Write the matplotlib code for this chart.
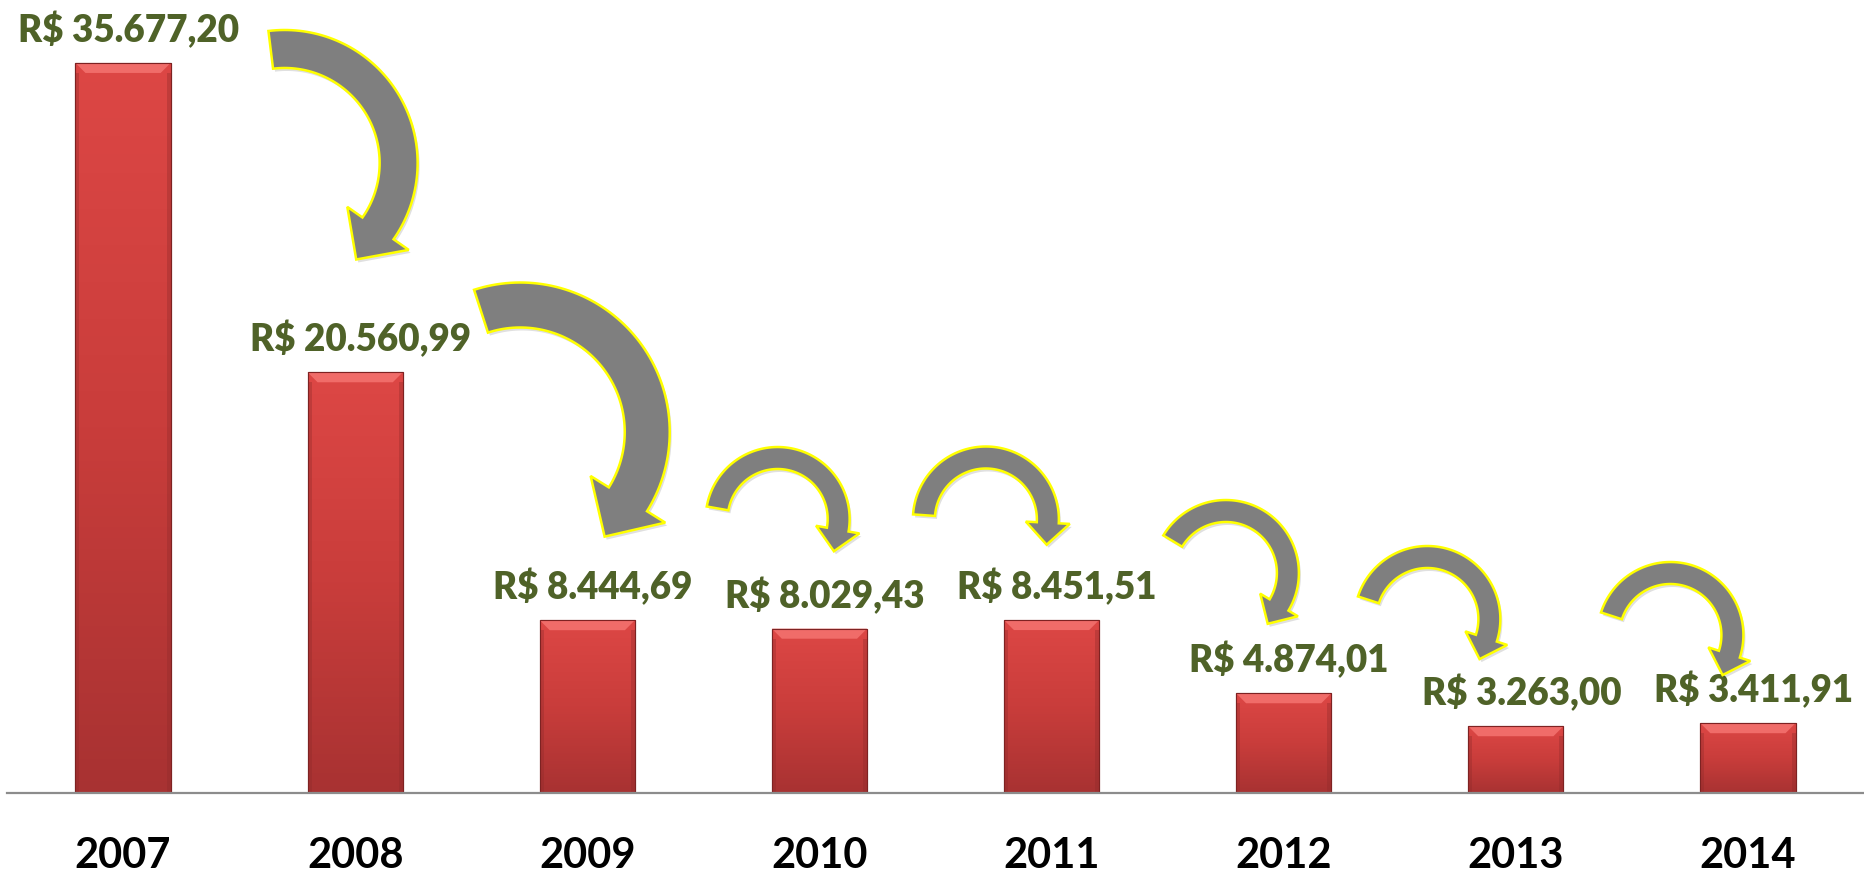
import numpy as np
import matplotlib
matplotlib.use("Agg")
import matplotlib.pyplot as plt
from matplotlib.colors import LinearSegmentedColormap
from matplotlib.patches import Polygon
from matplotlib.transforms import Affine2D, ScaledTranslation

# --- dados ---
anos = ["2007", "2008", "2009", "2010", "2011", "2012", "2013", "2014"]
valores = [35677.20, 20560.99, 8444.69, 8029.43, 8451.51, 4874.01, 3263.00, 3411.91]
rotulos = ["R$ 35.677,20", "R$ 20.560,99", "R$ 8.444,69", "R$ 8.029,43",
           "R$ 8.451,51", "R$ 4.874,01", "R$ 3.263,00", "R$ 3.411,91"]

# setas curvas entre os anos (centro do arco em coordenadas de dados)
seta_cx = [0.696, 1.711, 2.820, 3.717, 4.751, 5.619, 6.666]
seta_cy = [30789, 17642, 13390, 13366, 10751, 8503, 7721]
# raio, largura, angulo inicial, angulo final, largura da ponta, comprimento da ponta (px)
seta_geo = [(114, 38, 97, -35, 75, 38),
            (127, 45, 108, -32, 88, 44),
            (61, 22, 170, -10, 44, 22),
            (62, 22, 176, -3, 44, 22),
            (62, 22, 149, -31, 44, 22),
            (62, 22, 162, -18, 44, 22),
            (62, 22, 162, -18, 44, 22)]

plt.rcParams['font.family'] = ['Lato', 'DejaVu Sans']

fig = plt.figure(figsize=(18.64, 8.74), dpi=100)
ax = fig.add_axes([7 / 1864, 81 / 874, 1 - 7 / 1864, 793 / 874])

x = np.arange(len(anos))
largura = 0.41
barras = ax.bar(x, valores, width=largura, color="#D64240", edgecolor="#7E2222",
                linewidth=0.8, zorder=2)

# gradiente vertical + brilho no topo de cada barra
cmap = LinearSegmentedColormap.from_list("verm", ["#A83232", "#C93D3B", "#DD4745"])
grad = np.linspace(0, 1, 256).reshape(-1, 1)
ymax = 38754
px_x = 1 / 232.6
px_y = ymax / 793
for b in barras:
    x0, w, h = b.get_x(), b.get_width(), b.get_height()
    im = ax.imshow(grad, extent=[x0, x0 + w, 0, h], origin="lower", aspect="auto",
                   cmap=cmap, zorder=2.1)
    im.set_clip_path(b)
    dx, dy = 10 * px_x, 10 * px_y
    topo = Polygon([(x0, h), (x0 + w, h), (x0 + w - dx, h - dy), (x0 + dx, h - dy)],
                   closed=True, facecolor="#F06C69", edgecolor="none", zorder=2.2)
    ax.add_patch(topo)
    # laterais um pouco mais escuras
    for xa, xb in [(x0, x0 + 4 * px_x), (x0 + w - 4 * px_x, x0 + w)]:
        ax.add_patch(Polygon([(xa, h - dy), (xb, h - dy), (xb, 0), (xa, 0)], closed=True,
                             facecolor="#8E2A2A", edgecolor="none", alpha=0.35, zorder=2.2))
    ax.add_patch(Polygon([(x0, h), (x0 + w, h), (x0 + w, 0), (x0, 0)], closed=True,
                         facecolor="none", edgecolor="#7E2222", linewidth=0.8, zorder=2.3))

ax.set_xlim(-0.5, len(anos) - 0.5)
ax.set_ylim(0, ymax)

# rotulos de valor
for xi, v, txt in zip(x, valores, rotulos):
    ax.annotate(txt, (xi, v), xytext=(4, 15), textcoords="offset points",
                ha="center", va="baseline", fontsize=26.5, fontweight="heavy",
                color="#4F6228", zorder=4, annotation_clip=False)


def seta_curva(cx, cy, r, w, a0, a1, hw, hl):
    t = np.radians(np.linspace(a0, a1, 80))
    externo = np.c_[(r + w / 2) * np.cos(t), (r + w / 2) * np.sin(t)]
    interno = np.c_[(r - w / 2) * np.cos(t), (r - w / 2) * np.sin(t)][::-1]
    e = np.radians(a1)
    radial = np.array([np.cos(e), np.sin(e)])
    tang = np.array([np.sin(e), -np.cos(e)])
    base = r * radial
    ponta = [base + hw / 2 * radial, base + hl * tang, base - hw / 2 * radial]
    verts = np.vstack([externo, ponta, interno])
    pos = ScaledTranslation(cx, cy, ax.transData)
    # sombra suave
    sombra = (Affine2D().translate(2, -3).scale(1 / fig.dpi) + fig.dpi_scale_trans + pos)
    ax.add_patch(Polygon(verts, closed=True, transform=sombra, facecolor="#000000",
                         edgecolor="none", alpha=0.12, zorder=4.9, clip_on=False))
    trans = Affine2D().scale(1 / fig.dpi) + fig.dpi_scale_trans + pos
    ax.add_patch(Polygon(verts, closed=True, transform=trans, facecolor="#7F7F7F",
                         edgecolor="#FFFF00", linewidth=1.8, zorder=5, clip_on=False))


for cx, cy, geo in zip(seta_cx, seta_cy, seta_geo):
    seta_curva(cx, cy, *geo)

ax.set_xticks(x)
ax.set_xticklabels(anos, fontsize=30, fontweight="bold", color="black")
ax.tick_params(axis="x", length=0, pad=32)
ax.set_yticks([])
for s in ["top", "right", "left"]:
    ax.spines[s].set_visible(False)
ax.spines["bottom"].set_color("#8C8C8C")
ax.spines["bottom"].set_linewidth(1.6)
ax.spines["bottom"].set_zorder(3)

fig.savefig("out.png", dpi=100)
